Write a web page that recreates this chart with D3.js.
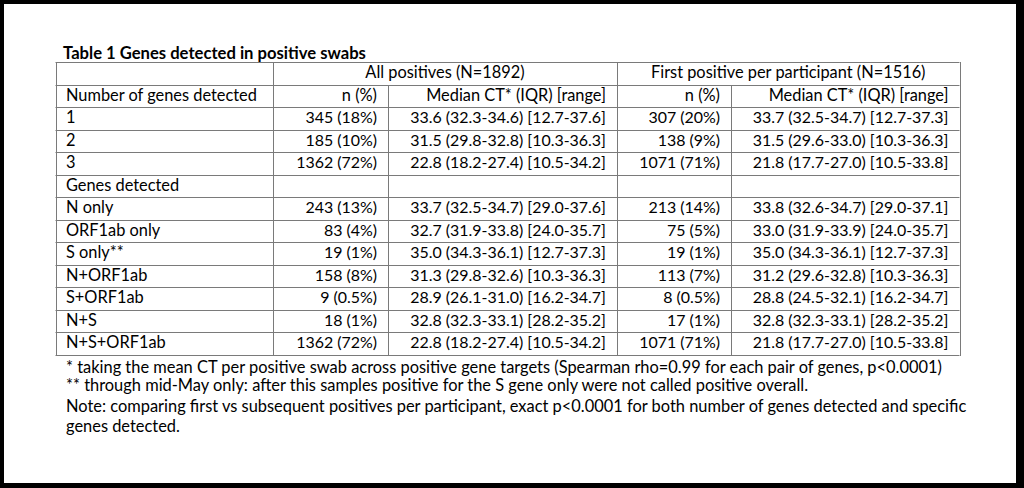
<!DOCTYPE html>
<html>
<head>
<meta charset="utf-8">
<script src="https://cdn.jsdelivr.net/npm/d3@7"></script>
<style>
  html, body { margin: 0; padding: 0; background: #000; }
  svg { display: block; }
  text { font-family: Lato, "Open Sans", sans-serif; fill: #000; }
</style>
</head>
<body>
<svg id="chart" width="1024" height="488"></svg>
<script>
// ---------------- data ----------------
const title = "Table 1 Genes detected in positive swabs";
const groupHeaders = ["All positives (N=1892)", "First positive per participant (N=1516)"];
const columnHeaders = ["Number of genes detected", "n (%)", "Median CT* (IQR) [range]", "n (%)", "Median CT* (IQR) [range]"];
const rowLabels = ["1", "2", "3", "Genes detected", "N only", "ORF1ab only", "S only**", "N+ORF1ab", "S+ORF1ab", "N+S", "N+S+ORF1ab"];
const allN      = ["345 (18%)", "185 (10%)", "1362 (72%)", "", "243 (13%)", "83 (4%)", "19 (1%)", "158 (8%)", "9 (0.5%)", "18 (1%)", "1362 (72%)"];
const allCT     = ["33.6 (32.3-34.6) [12.7-37.6]", "31.5 (29.8-32.8) [10.3-36.3]", "22.8 (18.2-27.4) [10.5-34.2]", "",
                   "33.7 (32.5-34.7) [29.0-37.6]", "32.7 (31.9-33.8) [24.0-35.7]", "35.0 (34.3-36.1) [12.7-37.3]",
                   "31.3 (29.8-32.6) [10.3-36.3]", "28.9 (26.1-31.0) [16.2-34.7]", "32.8 (32.3-33.1) [28.2-35.2]",
                   "22.8 (18.2-27.4) [10.5-34.2]"];
const firstN    = ["307 (20%)", "138 (9%)", "1071 (71%)", "", "213 (14%)", "75 (5%)", "19 (1%)", "113 (7%)", "8 (0.5%)", "17 (1%)", "1071 (71%)"];
const firstCT   = ["33.7 (32.5-34.7) [12.7-37.3]", "31.5 (29.6-33.0) [10.3-36.3]", "21.8 (17.7-27.0) [10.5-33.8]", "",
                   "33.8 (32.6-34.7) [29.0-37.1]", "33.0 (31.9-33.9) [24.0-35.7]", "35.0 (34.3-36.1) [12.7-37.3]",
                   "31.2 (29.6-32.8) [10.3-36.3]", "28.8 (24.5-32.1) [16.2-34.7]", "32.8 (32.3-33.1) [28.2-35.2]",
                   "21.8 (17.7-27.0) [10.5-33.8]"];
const footnotes = [
  "* taking the mean CT per positive swab across positive gene targets (Spearman rho=0.99 for each pair of genes, p<0.0001)",
  "** through mid-May only: after this samples positive for the S gene only were not called positive overall.",
  "Note: comparing first vs subsequent positives per participant, exact p<0.0001 for both number of genes detected and specific",
  "genes detected."
];

// ---------------- layout ----------------
const svg = d3.select("#chart");
const W = 1024, H = 488;
svg.append("rect").attr("x", 0).attr("y", 0).attr("width", W).attr("height", H).attr("fill", "#000");
svg.append("rect").attr("x", 4).attr("y", 4).attr("width", 1012).attr("height", 479).attr("fill", "#fff");

const colEdges = [55.5, 273, 388, 617, 731, 959.5];
const nRows = 2 + rowLabels.length;
const rowScale = d3.scaleBand().domain(d3.range(nRows)).range([62, 354.5]).padding(0);
const rh = rowScale.bandwidth();
const lineColor = "#7a7a7a";

// fit font size so a reference string reaches a target width
function fitSize(str, target, weight) {
  const t = svg.append("text").attr("font-size", 100).attr("font-weight", weight || 400).text(str);
  const w = t.node().getComputedTextLength();
  t.remove();
  return 100 * target / w;
}
const bodySize = fitSize("33.6 (32.3-34.6) [12.7-37.6]", 196);
const labelSize = fitSize("Number of genes detected", 191);
const noteSize = fitSize(footnotes[0], 877);
const titleSize = fitSize(title, 303, 700);

// title
svg.append("text").attr("x", 63).attr("y", 58.5)
  .attr("font-size", titleSize).attr("font-weight", 700).text(title);

const g = svg.append("g");
// horizontal lines
g.selectAll("line.h").data(d3.range(nRows + 1)).join("line")
  .attr("x1", colEdges[0]).attr("x2", colEdges[5])
  .attr("y1", d => Math.round(d < nRows ? rowScale(d) : rowScale(nRows - 1) + rh) + 0.5)
  .attr("y2", d => Math.round(d < nRows ? rowScale(d) : rowScale(nRows - 1) + rh) + 0.5)
  .attr("stroke", lineColor).attr("stroke-width", 1);
// vertical lines
colEdges.forEach((x, i) => {
  const spanning = (i === 2 || i === 4);
  const y0 = spanning ? rowScale(1) : rowScale(0);
  g.append("line")
    .attr("x1", Math.round(x) + 0.5).attr("x2", Math.round(x) + 0.5)
    .attr("y1", Math.round(y0)).attr("y2", Math.round(rowScale(nRows - 1) + rh) + 1)
    .attr("stroke", lineColor).attr("stroke-width", 1);
});

const base = 16; // baseline offset in row
// group headers
groupHeaders.forEach((t, i) => {
  const x0 = colEdges[1 + i * 2], x1 = colEdges[3 + i * 2];
  g.append("text").attr("x", (x0 + x1) / 2).attr("y", rowScale(0) + base)
    .attr("text-anchor", "middle").attr("font-size", labelSize).text(t);
});
// column headers
columnHeaders.forEach((t, i) => {
  const left = i === 0;
  g.append("text")
    .attr("x", left ? colEdges[0] + 10.5 : colEdges[i + 1] - 11)
    .attr("y", rowScale(1) + base)
    .attr("text-anchor", left ? "start" : "end")
    .attr("font-size", labelSize).text(t);
});
// body rows
const cols = [rowLabels, allN, allCT, firstN, firstCT];
cols.forEach((arr, ci) => {
  g.selectAll("text.c" + ci).data(arr).join("text")
    .attr("class", "c" + ci)
    .attr("x", ci === 0 ? colEdges[0] + 10.5 : colEdges[ci + 1] - 11)
    .attr("y", (d, i) => rowScale(i + 2) + base)
    .attr("text-anchor", ci === 0 ? "start" : "end")
    .attr("font-size", ci === 0 ? labelSize : bodySize)
    .text(d => d);
});

// footnotes
const noteY = [373, 391, 412, 432];
svg.selectAll("text.note").data(footnotes).join("text")
  .attr("class", "note")
  .attr("x", 66).attr("y", (d, i) => noteY[i])
  .attr("font-size", noteSize).text(d => d);
</script>
</body>
</html>
